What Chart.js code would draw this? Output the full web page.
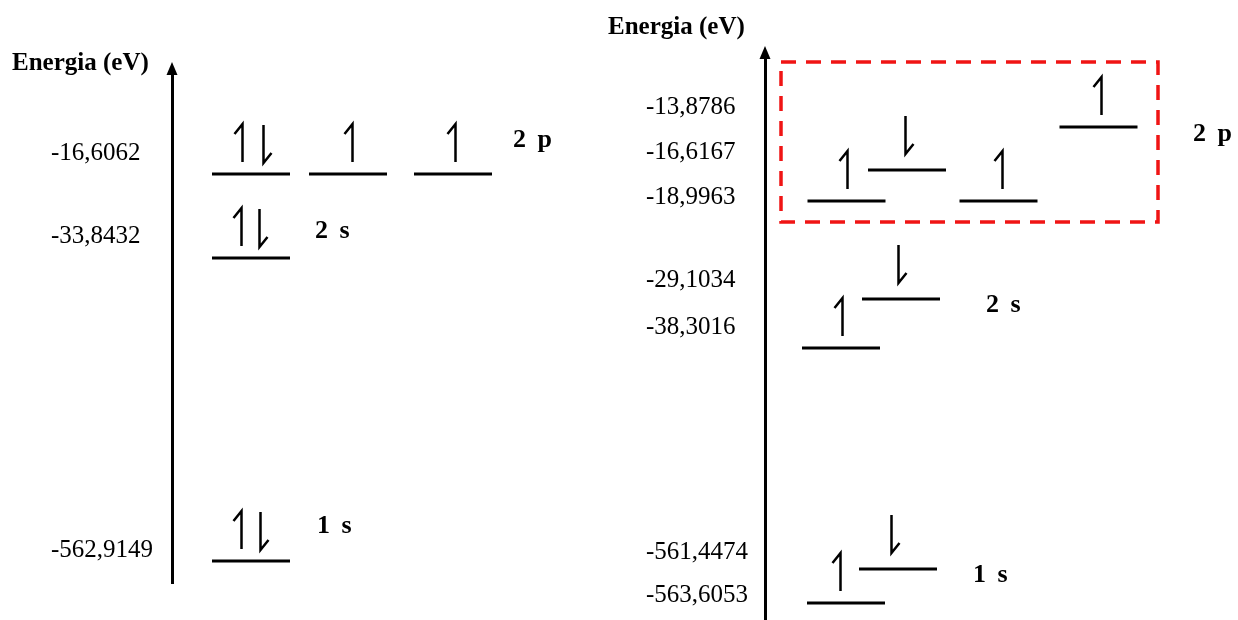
<!DOCTYPE html>
<html><head><meta charset="utf-8">
<script src="https://cdn.jsdelivr.net/npm/chart.js@4"></script>
<style>
html,body{margin:0;padding:0;background:#fff;width:1238px;height:620px;overflow:hidden}
#l{position:absolute;left:0;top:0;width:600px;height:620px}
#r{position:absolute;left:600px;top:0;width:638px;height:620px}
</style></head><body>
<div id="l"><canvas id="cl"></canvas></div>
<div id="r"><canvas id="cr"></canvas></div>
<script>
// ---------- Left diagram ----------
const leftTickLabels = ['-16,6062', '-33,8432', '-562,9149'];
const leftTickHeights = [84.3, 68.0, 6.3];
const leftLevelSlots = [0.79, 1.76, 2.81, 0.79, 0.79];
const leftLevelHeights = [80.35, 80.35, 80.35, 63.85, 4.32];
const leftElectronSlots = [0.70, 0.91, 1.80, 2.83, 0.69, 0.87, 0.69, 0.88];
const leftElectronHeights = [80.35, 80.35, 80.35, 80.35, 63.85, 63.85, 4.32, 4.32];
const leftElectronSpins = ['up', 'down', 'up', 'up', 'up', 'down', 'up', 'down'];
const leftShellLabels = ['2 p', '2 s', '1 s'];
const leftShellSlots = [3.41, 1.43, 1.45];
const leftShellHeights = [87.0, 69.1, 11.2];

// ---------- Right diagram ----------
const rightTickLabels = ['-13,8786', '-16,6167', '-18,9963', '-29,1034', '-38,3016', '-561,4474', '-563,6053'];
const rightTickHeights = [91.2, 83.2, 75.2, 60.5, 52.0, 12.1, 4.3];
const rightLevelSlots = [0.815, 1.42, 2.335, 3.335, 0.76, 1.36, 0.81, 1.33];
const rightLevelHeights = [74.56, 80.07, 74.56, 87.72, 48.40, 57.12, 3.02, 9.07];
const rightElectronSlots = [0.82, 1.40, 2.37, 3.36, 0.77, 1.33, 0.75, 1.26];
const rightElectronHeights = [74.56, 80.07, 74.56, 87.72, 48.40, 57.12, 3.02, 9.07];
const rightElectronSpins = ['up', 'down', 'up', 'up', 'up', 'down', 'up', 'down'];
const rightShellLabels = ['2 p', '2 s', '1 s'];
const rightShellSlots = [4.28, 2.21, 2.08];
const rightShellHeights = [86.5, 56.05, 8.0];
const rightBoxSlots = [0.16, 3.93];
const rightBoxHeights = [70.82, 99.29];

const axisTitle = 'Energia (eV)';
const LEVEL_HALF = 0.39;

const diagramPlugin = {
  id: 'diagram',
  afterDatasetsDraw(chart, args, o) {
    const ctx = chart.ctx;
    const xs = chart.scales.x, ys = chart.scales.y;
    ctx.save();
    chart.data.datasets.forEach((ds, i) => {
      if (ds.kind !== 'electrons') return;
      const meta = chart.getDatasetMeta(i);
      ctx.strokeStyle = '#000';
      ctx.lineWidth = 2.5;
      ctx.lineJoin = 'miter';
      ctx.lineCap = 'butt';
      meta.data.forEach((pt, j) => {
        const x = Math.round(pt.x) + 0.5, y = pt.y;
        ctx.beginPath();
        if (ds.spins[j] === 'up') {
          const b = y - o.upOffset, t = b - o.len;
          ctx.moveTo(x, b); ctx.lineTo(x, t); ctx.lineTo(x - 8, t + 10);
        } else {
          const b = y - o.downOffset, t = b - o.len;
          ctx.moveTo(x, t); ctx.lineTo(x, b); ctx.lineTo(x + 8, b - 10);
        }
        ctx.stroke();
      });
    });
    ctx.fillStyle = '#000';
    ctx.font = 'bold 26px "Liberation Serif", "Times New Roman", serif';
    ctx.textAlign = 'left';
    ctx.textBaseline = 'middle';
    try { ctx.wordSpacing = '5px'; } catch (e) {}
    o.labels.forEach((t, k) => {
      ctx.fillText(t, xs.getPixelForValue(o.labelSlots[k]), ys.getPixelForValue(o.labelHeights[k]));
    });
    try { ctx.wordSpacing = '0px'; } catch (e) {}
    ctx.restore();
  },
  afterDraw(chart, args, o) {
    const ctx = chart.ctx, a = chart.chartArea;
    ctx.save();
    const x = a.left;
    ctx.fillStyle = '#000';
    ctx.beginPath();
    ctx.moveTo(x, a.top - 12);
    ctx.lineTo(x - 5.5, a.top + 1);
    ctx.lineTo(x + 5.5, a.top + 1);
    ctx.closePath();
    ctx.fill();
    ctx.font = 'bold 25px "Liberation Serif", "Times New Roman", serif';
    ctx.textAlign = 'left';
    ctx.textBaseline = 'alphabetic';
    ctx.fillText(axisTitle, o.titleX, o.titleY);
    ctx.restore();
  }
};

function levelDatasets(slots, heights) {
  return slots.map((s, i) => ({
    kind: 'level', type: 'line',
    data: [{x: s - LEVEL_HALF, y: heights[i]}, {x: s + LEVEL_HALF, y: heights[i]}],
    borderColor: '#000', borderWidth: 3, pointRadius: 0, borderCapStyle: 'butt', fill: false
  }));
}

function makeChart(id, cfg) {
  const datasets = levelDatasets(cfg.levelSlots, cfg.levelHeights);
  datasets.push({
    kind: 'electrons', type: 'scatter', spins: cfg.spins,
    data: cfg.eSlots.map((s, i) => ({x: s, y: cfg.eHeights[i]})),
    pointRadius: 0, showLine: false
  });
  if (cfg.box) {
    const [x0, x1] = cfg.box.slots, [y0, y1] = cfg.box.heights;
    datasets.push({
      kind: 'box', type: 'line',
      data: [{x: x0, y: y1}, {x: x1, y: y1}, {x: x1, y: y0}, {x: x0, y: y0}, {x: x0, y: y1}],
      borderColor: '#f01414', borderWidth: 3.5, borderDash: [15, 10], pointRadius: 0,
      fill: false, tension: 0, borderJoinStyle: 'miter', borderCapStyle: 'butt', clip: false
    });
  }
  return new Chart(document.getElementById(id), {
    type: 'line',
    data: {datasets},
    options: {
      responsive: true, maintainAspectRatio: false, animation: false,
      layout: {padding: cfg.padding},
      parsing: false,
      plugins: {
        legend: {display: false}, tooltip: {enabled: false}, title: {display: false},
        diagram: {
          upOffset: 12, downOffset: cfg.downOffset, len: 38,
          labels: cfg.shellLabels, labelSlots: cfg.shellSlots, labelHeights: cfg.shellHeights,
          titleX: cfg.titleX, titleY: cfg.titleY
        }
      },
      scales: {
        x: {type: 'linear', display: false, min: 0, max: 4},
        y: {
          type: 'linear', min: 0, max: 100, position: 'left',
          grid: {display: false, drawTicks: false},
          border: {display: true, color: '#000', width: 3},
          afterBuildTicks: (s) => { s.ticks = cfg.tickHeights.map(v => ({value: v})); },
          afterFit: (s) => { s.width = cfg.axisWidth; s.paddingTop = 0; s.paddingBottom = 0; },
          ticks: {
            autoSkip: false, crossAlign: 'far', padding: 0, color: '#000',
            font: {family: '"Liberation Serif", "Times New Roman", serif', size: 25},
            callback: (v, i) => cfg.tickLabels[i]
          }
        }
      }
    },
    plugins: [diagramPlugin]
  });
}

makeChart('cl', {
  levelSlots: leftLevelSlots, levelHeights: leftLevelHeights,
  eSlots: leftElectronSlots, eHeights: leftElectronHeights, spins: leftElectronSpins,
  shellLabels: leftShellLabels, shellSlots: leftShellSlots, shellHeights: leftShellHeights,
  tickLabels: leftTickLabels, tickHeights: leftTickHeights,
  padding: {left: 51, top: 74, right: 28, bottom: 37}, axisWidth: 121,
  downOffset: 11, titleX: 12, titleY: 70
});
makeChart('cr', {
  levelSlots: rightLevelSlots, levelHeights: rightLevelHeights,
  eSlots: rightElectronSlots, eHeights: rightElectronHeights, spins: rightElectronSpins,
  shellLabels: rightShellLabels, shellSlots: rightShellSlots, shellHeights: rightShellHeights,
  tickLabels: rightTickLabels, tickHeights: rightTickHeights,
  box: {slots: rightBoxSlots, heights: rightBoxHeights},
  padding: {left: 46, top: 58, right: 73, bottom: 0}, axisWidth: 119,
  downOffset: 16, titleX: 8, titleY: 34
});
</script>
</body></html>
